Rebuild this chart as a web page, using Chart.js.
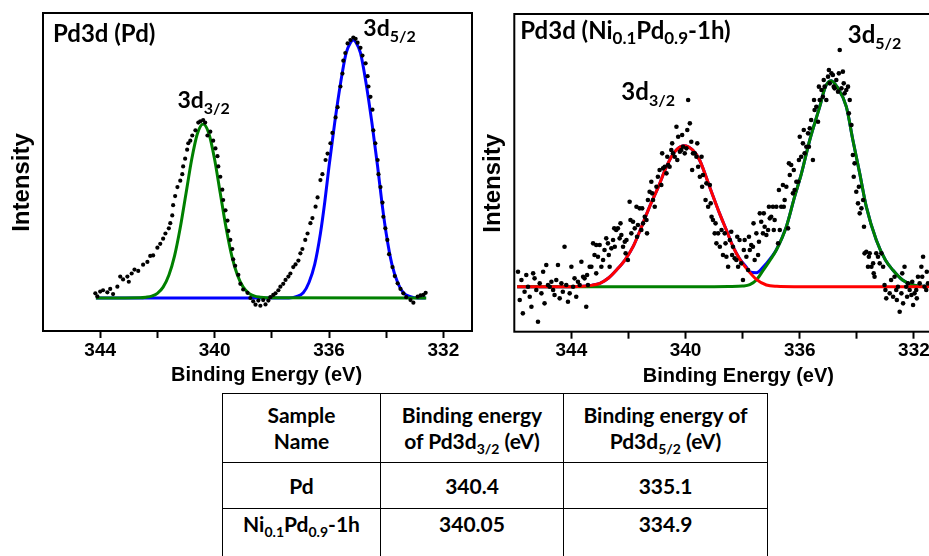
<!DOCTYPE html>
<html>
<head>
<meta charset="utf-8">
<title>Pd3d XPS</title>
<script src="https://cdn.jsdelivr.net/npm/chart.js@4.4.1/dist/chart.umd.min.js"></script>
<style>
  html, body { margin: 0; padding: 0; background: #fff; }
  body { position: relative; width: 929px; height: 556px; overflow: hidden; }
  #pdWrap { position: absolute; left: 0; top: 0; width: 480px; height: 390px; }
  #niWrap { position: absolute; left: 472px; top: 0; width: 480px; height: 390px; }
  #beTable { position: absolute; left: 222px; top: 393px; border-collapse: collapse; table-layout: fixed;
             font: bold 21px Lato, "Noto Sans", sans-serif; color: #000; }
  #beTable th, #beTable td { border: 1px solid #000; text-align: center; vertical-align: top; line-height: 26px; padding: 0; }
  #beTable tr.head { height: 69px; }
  #beTable tr.head th { padding-top: 8px; }
  #beTable tr.pd { height: 46px; }
  #beTable tr.pd td { padding-top: 10px; }
  #beTable tr.ni { height: 70px; }
  #beTable tr.ni td { padding-top: 2px; }
  #beTable sub { font-size: 14px; line-height: 0; }
</style>
</head>
<body>
<div id="pdWrap"><canvas id="pdChart" width="480" height="390"></canvas></div>
<div id="niWrap"><canvas id="niChart" width="480" height="390"></canvas></div>
<table id="beTable">
  <colgroup><col style="width:158px"><col style="width:183px"><col style="width:204px"></colgroup>
  <thead><tr class="head" id="beHead"></tr></thead>
  <tbody id="beBody"></tbody>
</table>
<script>
// x axis
const tickValues = [344, 342, 340, 338, 336, 334, 332];
const tickLabels = [344, 340, 336, 332];

// Pd : measured points (intensity in % of the 3d5/2 maximum)
const pdEnergy = [344.17,344.1,344.0,343.9,343.75,343.65,343.55,343.4,343.3,343.2,
  343.05,343.0,342.9,342.8,342.67,342.5,342.35,342.25,342.15,342.0,
  341.9,341.8,341.72,341.6,341.55,341.48,341.45,341.38,341.3,341.2,
  341.13,341.1,341.03,340.96,340.92,340.85,340.78,340.67,340.57,340.5,
  340.4,340.33,340.25,340.15,340.05,339.97,339.9,339.87,339.8,339.73,
  339.7,339.62,339.55,339.52,339.45,339.38,339.35,339.28,339.17,339.1,
  339.0,338.85,338.75,338.65,338.57,338.47,338.4,338.3,338.22,338.12,
  338.05,337.95,337.87,337.77,337.7,337.6,337.52,337.42,337.35,337.25,
  337.17,337.07,337.0,336.93,336.83,336.75,336.65,336.58,336.47,336.4,
  336.3,336.23,336.12,336.05,335.95,335.88,335.77,335.7,335.6,335.53,
  335.5,335.43,335.35,335.25,335.15,335.07,335.0,334.9,334.83,334.72,
  334.65,334.62,334.55,334.48,334.45,334.38,334.3,334.27,334.2,334.13,
  334.1,334.03,333.96,333.9,333.78,333.7,333.6,333.5,333.4,333.3,
  333.15,333.05,332.9,332.8,332.7,332.62];
const pdIntensity = [1.8,0.6,2.5,3,2.2,3.5,1.5,4.4,8.3,7.2,
  8.3,6.3,9.5,11,10.5,12.9,14,16.3,16.5,19.5,
  21,23,25,27,29,32,36,39.5,43,45.5,
  48,51,54,57.5,60,61,63,65,68,68.5,
  69,68,63,64.5,61,58,55,51,47,42,
  38,34,30,26,22.5,19,15,12.5,9,5.5,
  3.3,2,0,-1.3,-2.6,-1,-3,-0.8,-2.5,-1,
  0.3,1.2,1.8,3,4.4,5.5,7,8.3,9.5,12,
  13,14.5,17.3,19,22.5,25,29,31,35.4,39,
  45.7,48,53.5,56,60,64,70,74,82,87,
  92,95,98.7,100,101,100.5,99,97,94,91,
  86,82,78,73,65,60,53.5,48,43,37,
  31.5,27,22.5,17,12,8.5,5.7,3.5,1.8,0.3,
  -0.8,-1.8,0.5,1,1.2,2];

// Pd : fitted components
const pdFit32Energy = [344.15,342.6,342.4,342.2,342.0,341.8,341.6,341.4,341.2,341.0,340.8,340.6,340.4,
  340.2,340.0,339.8,339.6,339.4,339.2,339.0,338.8,338.6,338.4,338.2,332.6];
const pdFit32 = [0,0.1,0.3,0.7,1.8,4.2,8.8,16.3,27.3,40.5,53.8,63.8,67.5,
  63.8,53.8,40.5,27.3,16.3,8.8,4.2,1.8,0.7,0.3,0.1,0];
const pdFit52Energy = [344.15,337.4,337.15,336.9,336.7,336.5,336.3,336.15,336.0,335.8,335.6,335.4,335.25,335.15,
  335.05,334.9,334.7,334.5,334.3,334.15,334.0,333.8,333.6,333.4,333.15,332.9,332.62];
const pdFit52 = [0,0,0.5,2,6,13,25,37,51,68,83,95,99,100,
  99,95,83,68,51,37,25,13,6,2,0.5,0,0];

// Ni0.1Pd0.9-1h : measured points (counts, a.u.)
const niEnergy = [345.87,345.81,345.70,345.64,345.52,345.46,345.34,345.29,345.17,345.11,
  345.05,344.94,344.88,344.82,344.76,344.64,344.59,344.47,344.41,344.35,
  344.24,344.18,344.12,344.06,344.00,343.94,343.89,343.83,343.77,343.71,
  343.59,343.54,343.48,343.42,343.36,343.30,343.24,343.19,343.13,343.07,
  343.01,342.95,342.89,342.78,342.72,342.66,342.60,342.54,342.48,342.43,
  342.37,342.31,342.25,342.19,342.13,342.07,342.02,341.96,341.90,341.84,
  341.78,341.72,341.67,341.61,341.55,341.49,341.43,341.37,341.32,341.26,
  341.20,341.14,341.08,341.02,340.91,340.85,340.79,340.73,340.67,340.61,
  340.56,340.50,340.44,340.38,340.32,340.26,340.20,340.15,340.09,340.03,
  339.97,339.91,339.85,339.80,339.74,339.68,339.62,339.56,339.50,339.44,
  339.39,339.27,339.21,339.15,339.09,339.04,338.98,338.92,338.86,338.80,
  338.69,338.63,338.57,338.51,338.45,338.40,338.34,338.28,338.22,338.16,
  338.11,338.05,337.99,337.93,337.87,337.81,337.75,337.70,337.64,337.58,
  337.52,337.46,337.40,337.35,337.29,337.23,337.17,337.11,337.05,337.00,
  336.94,336.88,336.82,336.76,336.70,336.65,336.59,336.53,336.47,336.41,
  336.35,336.30,336.24,336.18,336.12,336.06,336.00,335.95,335.89,335.83,
  335.77,335.71,335.65,335.60,335.54,335.48,335.42,335.36,335.30,335.24,
  335.19,335.13,335.07,335.01,334.95,334.89,334.84,334.78,334.72,334.66,
  334.60,334.54,334.49,334.43,334.37,334.31,334.25,334.19,334.14,334.08,
  334.02,333.96,333.90,333.84,333.78,333.73,333.67,333.61,333.55,333.49,
  333.43,333.38,333.32,333.26,333.14,333.08,333.03,332.97,332.85,332.73,
  332.68,332.62,332.56,332.50,332.44,332.38,332.33,332.27,332.21,332.15,
  332.09,332.03,331.98,331.92,331.86,331.80,331.74,331.68,331.63,331.57,
  331.51,
  345.75,345.58,345.40,345.23,344.99,344.70,344.53,344.30,343.65,343.45,
  343.13,342.84,342.69,342.50,342.28,342.10,341.93,341.70,341.52,341.35,
  341.17,340.97,340.82,340.64,340.47,340.29,340.12,339.94,339.77,339.59,
  339.42,339.30,339.12,338.95,338.74,338.60,338.37,338.19,337.96,337.78,
  337.62,337.43,337.26,337.08,336.91,336.73,336.56,336.38,336.21,336.03,
  335.86,335.68,335.50,335.33,335.16,334.98,334.81,334.63,334.46,334.28,
  334.11,333.93,333.75,333.58,333.41,333.20,333.00,332.80,332.60,332.41,
  332.24,332.06,331.90,331.71,331.55];
const niCounts = [45,-40,-80,-15,0,-30,40,25,-105,10,
  -20,-50,65,5,0,-10,-25,65,-35,10,
  120,5,-45,-20,60,0,25,-30,15,5,
  30,25,-60,5,60,60,130,95,125,90,
  125,60,80,145,130,60,115,140,120,170,
  175,145,155,120,135,140,80,255,160,195,
  175,240,185,235,170,190,210,200,260,285,
  315,260,240,300,350,305,355,360,340,365,
  360,410,400,390,480,450,405,410,420,400,
  415,560,490,435,400,400,390,360,330,390,
  335,310,240,305,210,200,160,130,160,120,
  95,160,90,60,140,165,120,85,80,60,
  140,70,20,140,90,50,110,125,120,80,
  160,95,220,195,160,180,155,170,205,210,
  240,200,240,130,170,240,305,260,300,175,
  335,365,280,290,315,315,450,390,430,400,
  420,460,475,500,380,530,540,495,560,590,
  570,600,560,630,610,640,635,595,620,585,
  710,595,645,580,590,600,560,485,395,370,
  285,250,220,235,260,100,105,60,100,60,
  70,30,100,90,100,60,5,-35,-20,-30,
  30,-10,0,-75,-20,-50,60,0,10,-10,
  -25,-55,-20,-10,30,10,60,90,0,-10,
  10,
  20,35,-60,-10,45,15,20,-15,75,35,
  40,110,95,175,190,100,200,150,235,160,
  280,330,400,390,430,380,455,470,350,430,
  300,260,250,190,170,130,95,150,110,150,
  190,135,220,240,170,290,240,370,350,380,
  470,420,560,600,620,650,600,640,610,520,
  330,300,180,90,40,70,-10,20,-40,40,
  -30,15,-35,30,45];

// Ni0.1Pd0.9-1h : fitted components and envelope
const niFit32Energy = [345.9,344.0,343.6,343.3,343.0,342.7,342.42,342.1,341.84,341.55,
  341.26,340.95,340.67,340.4,340.05,339.75,339.51,339.16,338.81,338.55,
  338.34,338.1,337.87,337.52,337.17,336.8,336.2,331.0];
const niFit32 = [0,0,1,4,10,26,50,83,120,178,
  240,300,360,403,423,410,380,300,220,165,
  120,82,55,22,5,1,0,0];
const niFit52Energy = [345.9,339.0,338.5,338.0,337.75,337.52,337.29,337.0,336.82,336.47,
  336.18,335.94,335.65,335.3,335.1,334.9,334.7,334.37,334.14,333.9,
  333.67,333.32,333.0,332.74,332.4,332.04,331.6,331.0];
const niFit52 = [0,0,0.5,2,6,20,48,85,110,180,
  270,340,440,540,600,618,600,540,440,340,
  240,140,80,50,20,5,1,0];
const niEnvEnergy = [345.9,344.0,343.6,343.3,343.0,342.7,342.42,342.1,341.84,341.55,
  341.26,340.95,340.67,340.4,340.05,339.75,339.51,339.16,338.81,338.55,
  338.34,338.1,337.87,337.75,337.52,337.29,337.0,336.82,336.47,336.18,
  335.94,335.65,335.3,335.1,334.9,334.7,334.37,334.14,333.9,333.67,
  333.32,333.0,332.74,332.4,332.04,331.6,331.0];
const niEnv = [0,0,1,4,10,26,50,83,120,178,
  240,300,360,403,423,410,380,300,220,166,
  121,83,59,44,42,58,88,111,180,270,
  340,440,540,600,618,600,540,440,340,240,
  140,80,50,20,5,1,0];

// table
const tableHead = ['Sample<br>Name', 'Binding energy<br>of Pd3d<sub>3/2</sub> (eV)', 'Binding energy of<br>Pd3d<sub>5/2</sub> (eV)'];
const tableSamples = ['Pd', 'Ni<sub>0.1</sub>Pd<sub>0.9</sub>-1h'];
const tableBE32 = ['340.4', '340.05'];
const tableBE52 = ['335.1', '334.9'];

document.getElementById('beHead').innerHTML = tableHead.map(h => '<th>' + h + '</th>').join('');
document.getElementById('beBody').innerHTML = tableSamples.map((s, i) =>
  '<tr class="' + (i === 0 ? 'pd' : 'ni') + '"><td>' + s + '</td><td>' + tableBE32[i] + '</td><td>' + tableBE52[i] + '</td></tr>'
).join('');

function pairs(xs, ys) {
  return xs.map((x, i) => ({ x: x, y: ys[i] }));
}

function drawRich(ctx, x, y, parts, size, subSize, drop) {
  let cx = x;
  parts.forEach(p => {
    const sub = p[1];
    ctx.font = 'bold ' + (sub ? subSize : size) + 'px Lato, "Noto Sans", sans-serif';
    ctx.fillText(p[0], cx, sub ? y + drop : y);
    cx += ctx.measureText(p[0]).width;
  });
}

const frameAndText = {
  id: 'frameAndText',
  afterDraw(chart, args, opts) {
    const { ctx, chartArea: a, scales } = chart;
    ctx.save();
    ctx.strokeStyle = '#000';
    ctx.lineWidth = 2;
    ctx.strokeRect(a.left, a.top, a.right - a.left, a.bottom - a.top);

    ctx.fillStyle = '#000';
    ctx.textBaseline = 'alphabetic';
    ctx.textAlign = 'center';
    ctx.font = 'bold 20px "Liberation Sans", Arial, sans-serif';
    ctx.fillText('Binding Energy (eV)', (a.left + a.right) / 2 + opts.titleShift, a.bottom + 50);

    ctx.save();
    ctx.translate(a.left - 20.5, (a.top + a.bottom) / 2 + 10.5);
    ctx.rotate(-Math.PI / 2);
    ctx.textBaseline = 'middle';
    ctx.font = 'bold 24px "Liberation Sans", Arial, sans-serif';
    ctx.fillText('Intensity', 0, 0);
    ctx.restore();

    ctx.textAlign = 'left';
    drawRich(ctx, a.left + opts.panelX, a.top + opts.panelY, opts.panel, 24, 17, 5);
    opts.peaks.forEach(p => {
      drawRich(ctx, scales.x.getPixelForValue(p.x), scales.y.getPixelForValue(p.y), p.parts, opts.peakSize, 16, 6);
    });
    ctx.restore();
  }
};

function makeOptions(cfg) {
  return {
    responsive: false,
    animation: false,
    events: [],
    layout: { padding: cfg.padding },
    plugins: {
      legend: { display: false },
      tooltip: { enabled: false },
      frameAndText: cfg.text
    },
    scales: {
      x: {
        type: 'linear',
        min: 331,
        max: 346,
        reverse: true,
        afterBuildTicks: scale => { scale.ticks = tickValues.map(v => ({ value: v })); },
        afterFit: scale => { scale.height = cfg.xHeight; },
        ticks: {
          padding: 1,
          color: '#000',
          font: { family: '"Liberation Sans", Arial, sans-serif', size: 19, weight: 'bold' },
          callback: v => tickLabels.includes(v) ? String(v) : ''
        },
        grid: { display: true, drawOnChartArea: false, tickLength: 7, tickWidth: 2, tickColor: '#000' },
        border: { display: false }
      },
      y: {
        type: 'linear',
        display: false,
        min: cfg.yMin,
        max: cfg.yMax
      }
    }
  };
}

function dots(xs, ys, r) {
  return { data: pairs(xs, ys), order: 0, pointRadius: r, pointBackgroundColor: '#000', pointBorderWidth: 0, showLine: false };
}

function curve(xs, ys, color, order) {
  return {
    data: pairs(xs, ys), order: order, showLine: true, pointRadius: 0,
    borderColor: color, borderWidth: 3, cubicInterpolationMode: 'monotone', fill: false
  };
}

new Chart(document.getElementById('pdChart'), {
  type: 'scatter',
  data: {
    datasets: [
      dots(pdEnergy, pdIntensity, 2.1),
      curve(pdFit32Energy, pdFit32, '#008000', 1),
      curve(pdFit52Energy, pdFit52, '#0000FF', 2)
    ]
  },
  options: makeOptions({
    padding: { left: 43, top: 13, right: 8, bottom: 0 },
    xHeight: 59,
    yMin: -12.8,
    yMax: 110.5,
    text: {
      titleShift: 9,
      panelX: 10,
      panelY: 28.7,
      panel: [['Pd3d (Pd)', false]],
      peakSize: 23,
      peaks: [
        { x: 341.3, y: 73.5, parts: [['3d', false], ['3/2', true]] },
        { x: 334.8, y: 101.6, parts: [['3d', false], ['5/2', true]] }
      ]
    }
  }),
  plugins: [frameAndText]
});

new Chart(document.getElementById('niChart'), {
  type: 'scatter',
  data: {
    datasets: [
      dots(niEnergy, niCounts, 2.3),
      curve(niFit32Energy, niFit32, '#FF0000', 1),
      curve(niFit52Energy, niFit52, '#008000', 2),
      curve(niEnvEnergy, niEnv, '#0000FF', 3)
    ]
  },
  options: makeOptions({
    padding: { left: 42.3, top: 14, right: 9.5, bottom: 0 },
    xHeight: 58.3,
    yMin: -135,
    yMax: 818,
    text: {
      titleShift: 10,
      panelX: 6,
      panelY: 25.3,
      panel: [['Pd3d (Ni', false], ['0.1', true], ['Pd', false], ['0.9', true], ['-1h)', false]],
      peakSize: 24,
      peaks: [
        { x: 342.25, y: 560, parts: [['3d', false], ['3/2', true]] },
        { x: 334.32, y: 732, parts: [['3d', false], ['5/2', true]] }
      ]
    }
  }),
  plugins: [frameAndText]
});
</script>
</body>
</html>
